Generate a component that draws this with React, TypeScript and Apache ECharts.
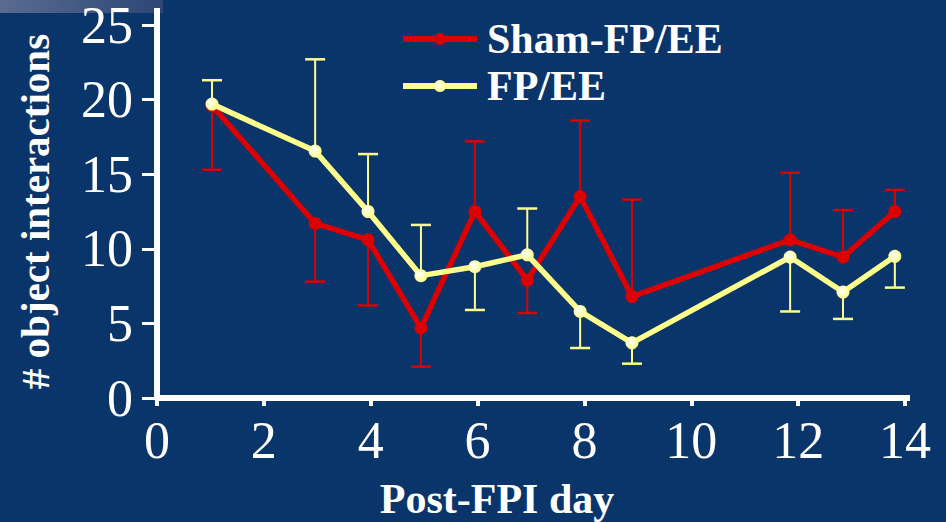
import React, { useEffect, useRef } from "react";
import * as echarts from "echarts";

const days = [1.03, 2.96, 3.95, 4.94, 5.95, 6.93, 7.92, 8.89, 11.85, 12.84, 13.81];
const shamValues = [19.6, 11.7, 10.6, 4.7, 12.5, 7.9, 13.5, 6.8, 10.6, 9.45, 12.5];
const shamErrEnds = [15.3, 7.8, 6.2, 2.1, 17.2, 5.7, 18.6, 13.3, 15.1, 12.6, 13.95];
const fpValues = [19.7, 16.55, 12.5, 8.2, 8.8, 9.6, 5.8, 3.7, 9.45, 7.1, 9.5];
const fpErrEnds = [21.3, 22.7, 16.35, 11.6, 5.9, 12.7, 3.35, 2.3, 5.8, 5.3, 7.4];
const xTicks = [0, 2, 4, 6, 8, 10, 12, 14];
const yTicks = [0, 5, 10, 15, 20, 25];

const RED = "#dd0000";
const YELLOW = "#ffff8c";
const BG = "#09356b";
const SERIF = "Liberation Serif";

function errorSeries(name: string, values: number[], ends: number[], color: string, z: number) {
  return {
    type: "custom",
    name: name + "-err",
    z,
    silent: true,
    data: days.map((d, i) => [d, values[i], ends[i]]),
    renderItem: (params: any, api: any) => {
      const p0 = api.coord([api.value(0), api.value(1)]);
      const p1 = api.coord([api.value(0), api.value(2)]);
      return {
        type: "group",
        children: [
          { type: "line", shape: { x1: p0[0], y1: p0[1], x2: p1[0], y2: p1[1] }, style: { stroke: color, lineWidth: 2 } },
          { type: "line", shape: { x1: p1[0] - 10, y1: p1[1], x2: p1[0] + 10, y2: p1[1] }, style: { stroke: color, lineWidth: 2.5 } },
        ],
      };
    },
  };
}

export default function App() {
  const ref = useRef<HTMLDivElement>(null);
  useEffect(() => {
    if (!ref.current) return;
    const chart = echarts.init(ref.current, null, { renderer: "svg" });
    chart.setOption({
      animation: false,
      backgroundColor: BG,
      grid: { left: 157, right: 41, top: 25, bottom: 124, outerBoundsMode: "none", containLabel: false },
      legend: {
        orient: "vertical",
        left: 395,
        top: 13,
        itemWidth: 74,
        itemHeight: 15,
        itemGap: 5,
        data: ["Sham-FP/EE", "FP/EE"],
        lineStyle: { width: 6 },
        textStyle: { color: "#ffffff", fontFamily: SERIF, fontWeight: "bold", fontSize: 42, padding: [0, 0, 0, 5] },
      },
      xAxis: {
        type: "value",
        min: 0,
        max: 14,
        interval: 2,
        name: "Post-FPI day",
        nameLocation: "middle",
        nameGap: 80,
        nameMoveOverlap: false,
        nameTextStyle: { color: "#ffffff", fontFamily: SERIF, fontWeight: "bold", fontSize: 42, padding: [0, 68, 0, 0] },
        splitLine: { show: false },
        axisLine: { show: true, onZero: false, lineStyle: { color: "#ffffff", width: 6 } },
        axisTick: { show: true, inside: false, length: 8, lineStyle: { color: "#ffffff", width: 4 } },
        axisLabel: {
          color: "#ffffff",
          fontFamily: SERIF,
          fontSize: 52,
          lineHeight: 40,
          margin: 22,
          formatter: (v: number) => (xTicks.includes(v) ? String(v) : ""),
        },
      },
      yAxis: {
        type: "value",
        min: 0,
        max: 25,
        interval: 5,
        name: "# object interactions",
        nameLocation: "middle",
        nameGap: 102,
        nameMoveOverlap: false,
        nameTextStyle: { color: "#ffffff", fontFamily: SERIF, fontWeight: "bold", fontSize: 41 },
        splitLine: { show: false },
        axisLine: { show: true, lineStyle: { color: "#ffffff", width: 6 } },
        axisTick: { show: true, inside: false, length: 15, lineStyle: { color: "#ffffff", width: 3 } },
        axisLabel: {
          color: "#ffffff",
          fontFamily: SERIF,
          fontSize: 52,
          lineHeight: 30,
          margin: 24,
          formatter: (v: number) => (yTicks.includes(v) ? String(v) : ""),
        },
      },
      graphic: [
        {
          type: "rect",
          shape: { x: 0, y: 0, width: 163, height: 13 },
          style: {
            fill: new echarts.graphic.LinearGradient(0, 0, 1, 0, [
              { offset: 0, color: "#5a6b90" },
              { offset: 1, color: "#2c4676" },
            ]),
          },
          silent: true,
        },
        {
          type: "line",
          shape: { x1: 157, y1: 8, x2: 157, y2: 27 },
          style: { stroke: "#ffffff", lineWidth: 6 },
          silent: true,
        },
        {
          type: "line",
          shape: { x1: 903, y1: 398, x2: 910, y2: 398 },
          style: { stroke: "#ffffff", lineWidth: 6 },
          silent: true,
        },
      ],
      series: [
        errorSeries("Sham-FP/EE", shamValues, shamErrEnds, RED, 1),
        errorSeries("FP/EE", fpValues, fpErrEnds, YELLOW, 2),
        {
          type: "line",
          name: "Sham-FP/EE",
          z: 3,
          data: days.map((d, i) => [d, shamValues[i]]),
          symbol: "circle",
          symbolSize: 13,
          itemStyle: { color: RED },
          lineStyle: { color: RED, width: 5.5 },
        },
        {
          type: "line",
          name: "FP/EE",
          z: 4,
          data: days.map((d, i) => [d, fpValues[i]]),
          symbol: "circle",
          symbolSize: 13,
          itemStyle: {
            color: new echarts.graphic.RadialGradient(0.4, 0.4, 0.6, [
              { offset: 0, color: "#ffffff" },
              { offset: 0.5, color: "#ffffc0" },
              { offset: 1, color: YELLOW },
            ]),
          },
          lineStyle: { color: YELLOW, width: 5.5 },
        },
      ],
    });
    return () => chart.dispose();
  }, []);
  return (
    <div
      ref={ref}
      style={{ position: "fixed", left: 0, top: 0, width: 946, height: 522 }}
    />
  );
}
